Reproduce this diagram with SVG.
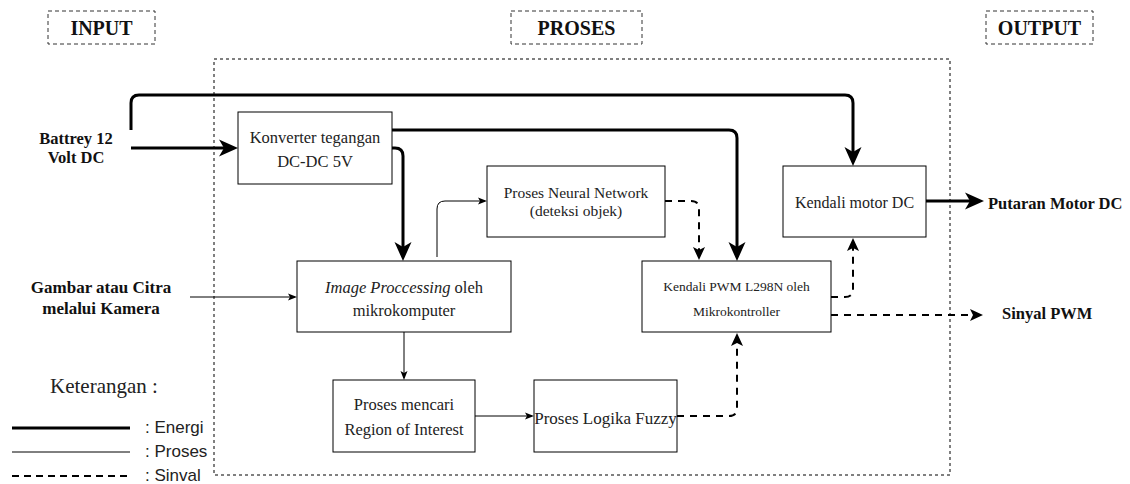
<svg xmlns="http://www.w3.org/2000/svg" width="1130" height="484" viewBox="0 0 1130 484">
<style>
.box{fill:#fff;stroke:#000;stroke-width:1}
.hdr{fill:none;stroke:#333;stroke-width:1;stroke-dasharray:4 3}
.cont{fill:none;stroke:#000;stroke-width:1;stroke-dasharray:3 3}
.t{font-family:"Liberation Serif","Times New Roman",serif;fill:#222;text-anchor:middle}
.b{font-family:"Liberation Serif","Times New Roman",serif;font-weight:bold;fill:#111}
.thick{fill:none;stroke:#000;stroke-width:3}
.thin{fill:none;stroke:#000;stroke-width:1}
.dash{fill:none;stroke:#000;stroke-width:2;stroke-dasharray:7 6}
.leg{font-family:"Liberation Sans",Arial,sans-serif;font-size:17px;fill:#222}
</style>
<defs>
<marker id="mThick" markerUnits="userSpaceOnUse" markerWidth="20" markerHeight="18" refX="14" refY="8.5" orient="auto" overflow="visible">
<path d="M0,0 L19,8.5 L0,17 L5,8.5 z" fill="#000"/>
</marker>
<marker id="mThin" markerUnits="userSpaceOnUse" markerWidth="10" markerHeight="8" refX="7" refY="3.5" orient="auto" overflow="visible">
<path d="M0,0 L9,3.5 L0,7 L2,3.5 z" fill="#000"/>
</marker>
<marker id="mDash" markerUnits="userSpaceOnUse" markerWidth="14" markerHeight="14" refX="10" refY="6" orient="auto" overflow="visible">
<path d="M0,0 L13,6 L0,12 L3,6 z" fill="#000"/>
</marker>
</defs>

<g id="headers">
<g id="hdr-input"><rect class="hdr" x="48" y="11" width="107" height="33"/><text class="b" x="101.5" y="35" font-size="20" text-anchor="middle">INPUT</text></g>
<g id="hdr-proses"><rect class="hdr" x="511" y="11" width="131" height="33"/><text class="b" x="576.5" y="35" font-size="20" text-anchor="middle">PROSES</text></g>
<g id="hdr-output"><rect class="hdr" x="986" y="11" width="107" height="33"/><text class="b" x="1039.5" y="35" font-size="20" text-anchor="middle">OUTPUT</text></g>
</g>

<g id="container"><rect class="cont" x="214" y="59" width="736" height="416"/></g>

<g id="connectors">
<path class="thick" d="M131,130 V103 Q131,95 139,95 H845 Q853,95 853,103 V161" marker-end="url(#mThick)"/>
<path class="thick" d="M131,148 H233" marker-end="url(#mThick)"/>
<path class="thick" d="M392,130 H729 Q737,130 737,138 V256" marker-end="url(#mThick)"/>
<path class="thick" d="M392,148 H395 Q403,148 403,156 V256" marker-end="url(#mThick)"/>
<path class="thick" d="M926,201 H979" marker-end="url(#mThick)"/>
<path class="thin" d="M190,297 H295" marker-end="url(#mThin)"/>
<path class="thin" d="M437,257 V209 Q437,201 445,201 H485" marker-end="url(#mThin)"/>
<path class="thin" d="M404,332 V378" marker-end="url(#mThin)"/>
<path class="thin" d="M475,416 H532" marker-end="url(#mThin)"/>
<path class="dash" d="M665,201 H691 Q699,201 699,209 V257" marker-end="url(#mDash)"/>
<path class="dash" d="M677,416 H729 Q737,416 737,408 V336" marker-end="url(#mDash)"/>
<path class="dash" d="M831,297 H845 Q853,297 853,289 V241" marker-end="url(#mDash)"/>
<path class="dash" d="M831,315 H980" marker-end="url(#mDash)"/>
</g>

<g id="node-konverter"><rect class="box" x="238" y="112" width="154" height="72"/>
<text class="t" x="315" y="143" font-size="16.5">Konverter tegangan</text>
<text class="t" x="315" y="167" font-size="16.5">DC-DC 5V</text></g>

<g id="node-neural"><rect class="box" x="487" y="166" width="178" height="71"/>
<text class="t" x="576" y="198" font-size="15.5">Proses Neural Network</text>
<text class="t" x="576" y="216" font-size="15.5">(deteksi objek)</text></g>

<g id="node-image"><rect class="box" x="297" y="261" width="214" height="71"/>
<text class="t" x="404" y="293" font-size="16.5"><tspan font-style="italic">Image Proccessing</tspan> oleh</text>
<text class="t" x="404" y="316" font-size="16.5">mikrokomputer</text></g>

<g id="node-pwm"><rect class="box" x="642" y="261" width="189" height="71"/>
<text class="t" x="736.5" y="291" font-size="13.5">Kendali PWM L298N oleh</text>
<text class="t" x="736.5" y="316" font-size="13.5">Mikrokontroller</text></g>

<g id="node-motor"><rect class="box" x="783" y="166" width="143" height="71"/>
<text class="t" x="854.5" y="208" font-size="16">Kendali motor DC</text></g>

<g id="node-roi"><rect class="box" x="333" y="380" width="142" height="72"/>
<text class="t" x="404" y="410" font-size="16.5">Proses mencari</text>
<text class="t" x="404" y="435" font-size="16.5">Region of Interest</text></g>

<g id="node-fuzzy"><rect class="box" x="534" y="380" width="143" height="72"/>
<text class="t" x="605.5" y="424" font-size="17">Proses Logika Fuzzy</text></g>

<g id="labels">
<text class="b" x="76" y="144" font-size="16.5" text-anchor="middle">Battrey 12</text>
<text class="b" x="76" y="163" font-size="16.5" text-anchor="middle">Volt DC</text>
<text class="b" x="101" y="293" font-size="17" text-anchor="middle">Gambar atau Citra</text>
<text class="b" x="101" y="314" font-size="17" text-anchor="middle">melalui Kamera</text>
<text class="b" x="988" y="209" font-size="16.5">Putaran Motor DC</text>
<text class="b" x="1002" y="319" font-size="16.5">Sinyal PWM</text>
</g>

<g id="legend">
<text x="50" y="393" font-family="'Liberation Serif','Times New Roman',serif" font-size="21" fill="#222">Keterangan :</text>
<line x1="12" y1="428" x2="130" y2="428" stroke="#000" stroke-width="3"/>
<line x1="12" y1="452" x2="130" y2="452" stroke="#000" stroke-width="1"/>
<line x1="12" y1="476" x2="130" y2="476" stroke="#000" stroke-width="2" stroke-dasharray="7 5"/>
<text class="leg" x="145" y="433">: Energi</text>
<text class="leg" x="145" y="457">: Proses</text>
<text class="leg" x="145" y="481">: Sinval</text>
</g>
</svg>
